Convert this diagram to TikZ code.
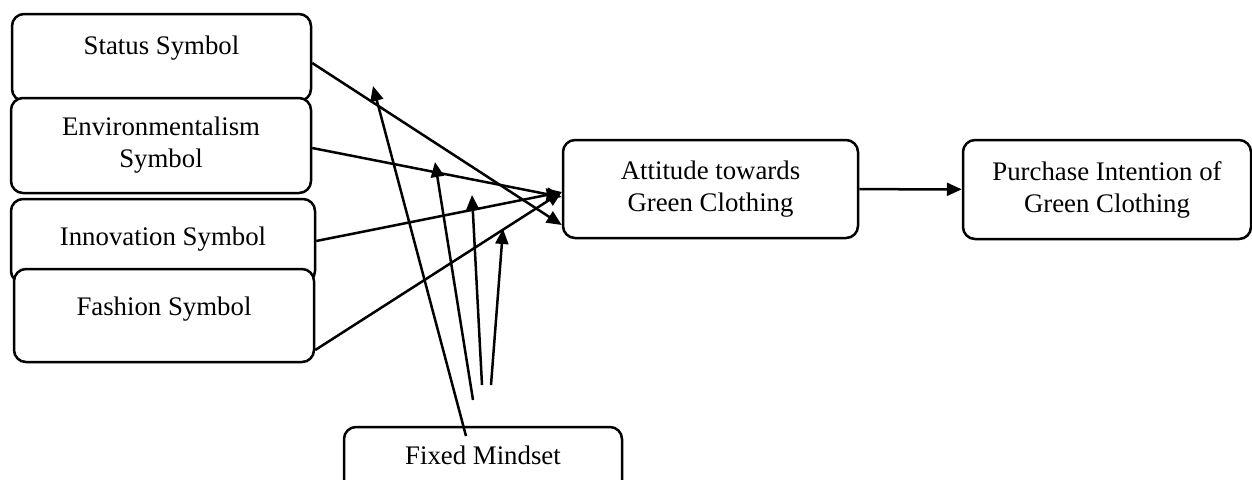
\documentclass[tikz,border=0pt]{standalone}
\usepackage{fontspec}
\setmainfont{Liberation Serif}
\usetikzlibrary{arrows.meta, calc}
\tikzset{
  block/.style={rectangle, rounded corners=6pt, draw=black, fill=white, line width=1.25pt,
                align=center, inner sep=2pt, font=\fontsize{13.4}{16}\selectfont},
  raised/.style={text depth=#1},
  arrow/.style={-{Triangle[length=7.5pt, width=6.5pt]}, line width=1.25pt, draw=black},
}

\begin{document}
\begin{tikzpicture}[x=0.5pt, y=-0.5pt]

  \useasboundingbox (0,0) rectangle (1252,479);

  %% ---- SYMBOL BLOCKS ----
  \node[block, minimum width=149.5pt, minimum height=43.5pt, raised=12.5pt] (status) at (161.5,57.5) {Status Symbol};
  \node[block, minimum width=150pt, minimum height=47.5pt] (envir) at (161,145.5) {Environmentalism\\Symbol};
  \node[block, minimum width=152pt, minimum height=42pt, raised=5pt] (innov) at (163,241) {Innovation Symbol};
  \node[block, minimum width=150pt, minimum height=46.5pt, raised=9.5pt] (fashion) at (164,315.5) {Fashion Symbol};

  %% ---- OUTCOME BLOCKS ----
  \node[block, minimum width=147.5pt, minimum height=49pt] (attitude) at (710.5,189) {Attitude towards\\Green Clothing};
  \node[block, minimum width=144pt, minimum height=49.5pt] (purchase) at (1107,189.5) {Purchase Intention of\\Green Clothing};

  %% ---- MODERATOR ----
  \node[block, minimum width=139pt, minimum height=45pt, raised=17pt] (mindset) at (483,472) {Fixed Mindset};

  %% ---- DIRECT PATHS ----
  \draw[arrow] ($(status.east)+(0,5.5)$) -- ($(attitude.west)+(0,36)$);
  \draw[arrow] ($(envir.east)+(0,2.5)$) -- ($(attitude.west)+(0,8)$);
  \draw[arrow] (innov.east) -- ($(attitude.west)+(0,3)$);
  \draw[arrow] ($(fashion.east)+(0,34.5)$) -- ($(attitude.west)+(0,3)$);
  \draw[arrow] (attitude) -- (purchase);

  %% ---- MODERATING PATHS ----
  \coordinate (tailS) at (466,436);
  \coordinate (tailE) at (473,400);
  \coordinate (tailI) at (482,385);
  \coordinate (tailF) at (491,385);
  \coordinate (modS) at (373,86);
  \coordinate (modE) at (435,162);
  \coordinate (modI) at (472,195);
  \coordinate (modF) at (503,229);

  \draw[arrow] (tailS) -- (modS);
  \draw[arrow] (tailE) -- (modE);
  \draw[arrow] (tailI) -- (modI);
  \draw[arrow] (tailF) -- (modF);

\end{tikzpicture}
\end{document}
